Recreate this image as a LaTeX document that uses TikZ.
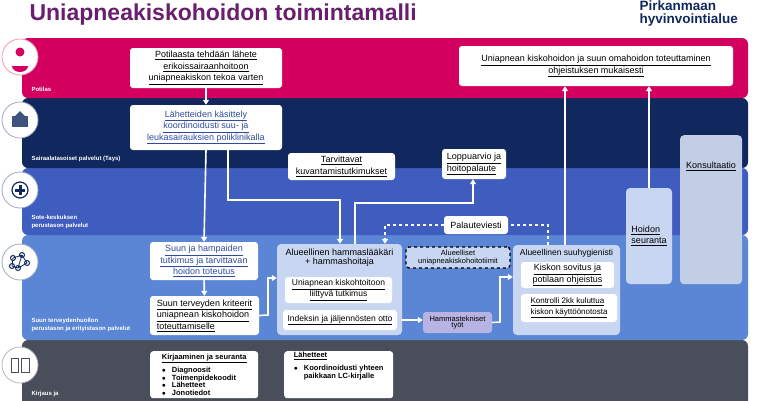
\documentclass[tikz,border=0pt]{standalone}
\usepackage{fontspec}
\setmainfont{Liberation Sans}
\usetikzlibrary{arrows.meta}
\definecolor{pink}{HTML}{D4005F}
\definecolor{navy}{HTML}{10285E}
\definecolor{mid}{HTML}{3F5DBF}
\definecolor{light}{HTML}{5A86D5}
\definecolor{slate}{HTML}{4A4E5A}
\definecolor{pale}{HTML}{C9D6F1}
\definecolor{lilac}{HTML}{B7B3E2}
\definecolor{linkblue}{HTML}{2E4C9C}
\definecolor{titlepurple}{HTML}{6A1E6E}
\newcommand{\un}[1]{\underline{#1}}
\tikzset{
  box/.style={fill=white, rounded corners=3pt, inner sep=1pt, align=center, font=\fontsize{9}{11.5}\selectfont},
  cont/.style={fill=pale, rounded corners=4pt, inner sep=0pt},
  arr/.style={white, line width=1.6pt, -{Triangle[length=5pt,width=6pt]}},
  band/.style={rounded corners=6pt},
  lbl/.style={white, anchor=south west, align=left, font=\fontsize{6}{8}\selectfont\bfseries},
  ico/.style={circle, fill=white, draw=#1!40, line width=0.8pt, minimum size=36pt}
}
\begin{document}
\begin{tikzpicture}[x=1pt,y=-1pt]
\useasboundingbox (0,0) rectangle (760,400);

% title and logo
\node[anchor=west, text=titlepurple, font=\fontsize{23}{26}\selectfont\bfseries] (title) at (26,15) {Uniapneakiskohoidon toimintamalli};
\node[anchor=north west, text=navy, align=left, font=\fontsize{13.5}{13.5}\selectfont\bfseries] (logo) at (636,-3) {Pirkanmaan\\hyvinvointialue};

% bands
\fill[band, slate] (22,340) rectangle (748,410);
\fill[band, light] (22,235) rectangle (748,340);
\fill[band, mid] (22,168) rectangle (748,235);
\fill[band, navy] (22,98) rectangle (748,168);
\fill[band, pink] (22,38) rectangle (748,98);
\node[lbl] (lpot) at (28,95) {Potilas};
\node[lbl] (ltays) at (28,165) {Sairaalatasoiset palvelut (Tays)};
\node[lbl] (lsote) at (28,232) {Sote-keskuksen\\perustason palvelut};
\node[lbl] (lsuu) at (28,335) {Suun terveydenhuollon\\perustason ja erityistason palvelut};
\node[lbl] (lkir) at (28,400) {Kirjaus ja};

% icons
\node[ico=pink] (i1) at (20,57) {};
\fill[pink] (20,52) circle (4.5);
\fill[pink] (12,66) arc (180:0:8 and 6) -- cycle;
\node[ico=navy] (i2) at (20,120) {};
\fill[navy!80] (12,116) rectangle (28,127);
\fill[navy!80] (15,116) -- (20,111) -- (25,116) -- cycle;
\node[ico=navy] (i3) at (20,190) {};
\draw[navy, line width=1.2pt] (20,190) circle (8);
\fill[navy] (18.5,185) rectangle (21.5,195);
\fill[navy] (15,188.5) rectangle (25,191.5);
\node[ico=navy] (i4) at (20,262) {};
\foreach \p/\q in {13/258, 22/255, 27/263, 18/268, 12/266}
  \draw[navy, line width=1pt] (\p,\q) circle (2.5);
\draw[navy, line width=0.8pt] (13,258) -- (22,255) -- (27,263) -- (18,268) -- (12,266) -- (13,258) (22,255) -- (18,268);
\node[ico=slate] (i5) at (20,365) {};
\draw[slate, line width=1pt] (11,358) rectangle (18,372) (21,358) rectangle (29,372);

% containers
\node[cont, minimum width=125pt, minimum height=91pt] (hlc) at (339.5,289.5) {};
\node[anchor=north, align=center, font=\fontsize{9}{9.5}\selectfont] (hlt) at (339.5,245) {Alueellinen hammaslääkäri\\+ hammashoitaja};
\node[cont, minimum width=107pt, minimum height=90pt] (shc) at (566.5,290) {};
\node[anchor=north, font=\fontsize{8.5}{9}\selectfont] (sht) at (566.5,246) {Alueellinen suuhygienisti};
\node[cont, minimum width=46pt, minimum height=96pt, font=\fontsize{9}{11.5}\selectfont, align=left] (hoi) at (649,236) {\un{Hoidon}\\\un{seuranta}};
\node[cont, fill=pale!90!gray, minimum width=62pt, minimum height=149pt, anchor=north] (kon) at (711,135) {};
\node[font=\fontsize{9}{11}\selectfont] (kont) at (711,166) {\un{Konsultaatio}};

% boxes
\node[box, minimum width=152pt, minimum height=40pt] (lahete) at (206,68) {\un{Potilaasta tehdään lähete}\\\un{erikoissairaanhoitoon}\\\un{uniapneakiskon tekoa varten}};
\node[box, text=linkblue, minimum width=152pt, minimum height=45pt] (kasit) at (206,127.5) {\un{Lähetteiden käsittely}\\\un{koordinoidusti suu- ja}\\\un{leukasairauksien poliklinikalla}};
\node[box, minimum width=107pt, minimum height=27pt] (kuva) at (341.5,166.5) {\un{Tarvittavat}\\\un{kuvantamistutkimukset}};
\node[box, minimum width=64pt, minimum height=30pt, align=left] (loppu) at (474,164) {\un{Loppuarvio ja}\\\un{hoitopalaute}};
\node[box, minimum width=274pt, minimum height=40pt] (omah) at (596,66) {\un{Uniapnean kiskohoidon ja suun omahoidon toteuttaminen}\\\un{ohjeistuksen mukaisesti}};
\node[box, text=linkblue, minimum width=108pt, minimum height=38pt] (tutk) at (204,261) {\un{Suun ja hampaiden}\\\un{tutkimus ja tarvittavan}\\\un{hoidon toteutus}};
\node[box, minimum width=109pt, minimum height=39pt, align=left] (krit) at (204.5,315.5) {\un{Suun terveyden kriteerit}\\\un{uniapnean kiskohoidon}\\\un{toteuttamiselle}};
\node[box, minimum width=107pt, minimum height=26pt, font=\fontsize{8.5}{11}\selectfont] (liit) at (338.5,290) {\un{Uniapnean kiskohtoitoon}\\\un{liittyvä tutkimus}};
\node[box, minimum width=114pt, minimum height=20pt, font=\fontsize{8.5}{11}\selectfont] (ind) at (340,320) {\un{Indeksin ja jäljennösten otto}};
\node[box, fill=pale, draw=black, dashed, line width=1.4pt, minimum width=104pt, minimum height=21pt, font=\fontsize{7.5}{8}\selectfont] (tiim) at (458,257.5) {Alueelliset\\uniapneakiskohoitotiimit};
\node[box, fill=lilac, minimum width=69pt, minimum height=21pt, font=\fontsize{7.5}{6.5}\selectfont] (tekn) at (457.5,322.5) {Hammastekniset\\työt};
\node[box, minimum width=93pt, minimum height=26pt] (sovi) at (567.5,275) {\un{Kiskon sovitus ja}\\\un{potilaan ohjeistus}};
\node[box, minimum width=96pt, minimum height=28pt, align=left, font=\fontsize{8}{10.5}\selectfont] (kontr) at (569,308) {\un{Kontrolli 2kk kuluttua}\\\un{kiskon käyttöönotosta}};
\node[box, minimum width=64pt, minimum height=18pt] (pal) at (476,225) {Palauteviesti};
\node[box, anchor=north west, align=left, minimum width=108pt, minimum height=47pt, font=\fontsize{7.5}{7.5}\selectfont\bfseries] (kirj) at (150,351) {\un{Kirjaaminen ja seuranta}\\[3pt]
$\bullet$\hspace{6pt}Diagnoosit\\$\bullet$\hspace{6pt}Toimenpidekoodit\\$\bullet$\hspace{6pt}Lähetteet\\$\bullet$\hspace{6pt}Jonotiedot};
\node[box, anchor=north west, align=left, minimum width=109pt, minimum height=47pt, font=\fontsize{7.5}{8}\selectfont\bfseries] (lah) at (284,351) {\un{Lähetteet}\\[5pt]
$\bullet$\hspace{6pt}Koordinoidusti yhteen\\\hspace{10pt}paikkaan LC-kirjalle\\[10pt]};

% connectors
\draw[arr] (lahete) -- (kasit);
\draw[arr] (kasit.south) -- (tutk.north);
\draw[arr] ([xshift=22pt]kasit.south) |- (340,200) -- (hlc.north -| 340,0);
\draw[arr] (hlc.north -| 355,0) |- (473,203) -- (loppu.south -| 473,0);
\draw[arr] (tutk) -- (krit);
\draw[arr] (krit.east) -- (268,315) |- (hlc.west |- 0,278);
\draw[arr] (ind.east -| hlc.east) -- (tekn.west |- ind.east);
\draw[arr] (tekn.east) -- (500,322) |- (shc.west |- 0,277);
\draw[arr] (shc.north -| 565,0) -- (omah.south -| 565,0);
\draw[arr] (hoi.north) -- (omah.south -| hoi.north);
\draw[white, line width=1.6pt, dashed] (shc.north -| 548,0) |- (pal.east);
\draw[arr, dashed] (pal.west) -| (hlc.north -| 385,0);
\end{tikzpicture}
\end{document}
